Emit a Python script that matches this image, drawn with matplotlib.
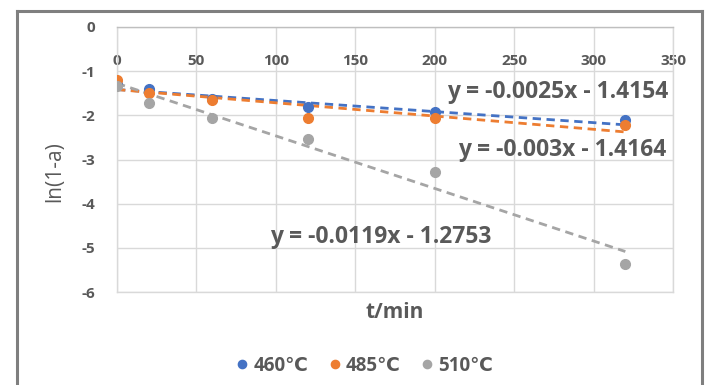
import numpy as np
import matplotlib
matplotlib.use("Agg")
import matplotlib.pyplot as plt
from matplotlib.lines import Line2D

plt.rcParams['font.family'] = ['Open Sans', 'DejaVu Sans']
plt.rcParams['axes.unicode_minus'] = False

# data
t_460 = [0, 20, 60, 120, 200, 320]
y_460 = [-1.30, -1.41, -1.62, -1.80, -1.92, -2.10]
t_485 = [0, 20, 60, 120, 200, 320]
y_485 = [-1.20, -1.49, -1.65, -2.07, -2.05, -2.22]
t_510 = [0, 20, 60, 120, 200, 320]
y_510 = [-1.33, -1.71, -2.07, -2.54, -3.29, -5.36]

# trendline coefficients (slope, intercept) as printed on the chart
fit_460 = (-0.0025, -1.4154)
fit_485 = (-0.003, -1.4164)
fit_510 = (-0.0119, -1.2753)

labels = ["460\u2103", "485\u2103", "510\u2103"]
colors = ["#4472C4", "#ED7D31", "#A5A5A5"]
txt = "#595959"

fig = plt.figure(figsize=(7.08, 3.85), dpi=100)
ax = fig.add_axes([117/708, 1 - 292/385, 556/708, 265/385])

series = [(t_460, y_460, fit_460), (t_485, y_485, fit_485), (t_510, y_510, fit_510)]
for (t, y, fit), c, lab in zip(series, colors, labels):
    ax.plot(t, y, "o", color=c, markersize=7, label=lab, zorder=3)
    xs = np.array([0, max(t)])
    ax.plot(xs, fit[0] * xs + fit[1], "--", color=c, linewidth=2, dashes=(3, 2), zorder=2)

# equations
eq = dict(fontsize=16.5, fontweight="bold", color=txt)
ax.text(347, -1.47, "y = -0.0025x - 1.4154", ha="right", va="center", **eq)
ax.text(346, -2.78, "y = -0.003x - 1.4164", ha="right", va="center", **eq)
ax.text(166, -4.75, "y = -0.0119x - 1.2753", ha="center", va="center", **eq)

ax.set_xlim(0, 350)
ax.set_ylim(-6, 0)
ax.set_xticks(np.arange(0, 351, 50))
ax.set_yticks(np.arange(-6, 1, 1))
ax.grid(True, color="#D9D9D9", linewidth=1)
ax.set_axisbelow(True)
for s in ax.spines.values():
    s.set_color("#D9D9D9")
    s.set_linewidth(1)
ax.spines["top"].set_color("#BFBFBF")

ax.tick_params(axis="x", bottom=False, top=False, labelbottom=False, labeltop=True,
               pad=-33, labelsize=11, labelcolor=txt)
ax.tick_params(axis="y", left=False, pad=12, labelsize=11, labelcolor=txt)
for lb in ax.get_xticklabels() + ax.get_yticklabels():
    lb.set_fontweight("bold")

fig.text(55/708, 1 - 172/385, "ln(1-a)", rotation=90, ha="center", va="center",
         fontsize=15, color=txt)
fig.text(395/708, 1 - 312/385, "t/min", ha="center", va="center",
         fontsize=15, fontweight="bold", color=txt)

leg = fig.legend(loc="center", bbox_to_anchor=(364/708, 1 - 366/385), ncol=3,
                 frameon=False, handletextpad=0.2, columnspacing=1.0,
                 handlelength=0.8, markerscale=0.85,
                 prop={"weight": "bold", "size": 13.5})
for tx in leg.get_texts():
    tx.set_color(txt)

# outer frame (left, top, right)
fc = "#7F7F7F"
fig.add_artist(Line2D([17/708, 17/708], [0, 1 - 11/385], color=fc, linewidth=2.2,
                      transform=fig.transFigure))
fig.add_artist(Line2D([17/708, 702/708], [1 - 11/385, 1 - 11/385], color=fc, linewidth=2.2,
                      transform=fig.transFigure))
fig.add_artist(Line2D([702/708, 702/708], [0, 1 - 11/385], color=fc, linewidth=2.2,
                      transform=fig.transFigure))

fig.savefig("out.png", dpi=100)
